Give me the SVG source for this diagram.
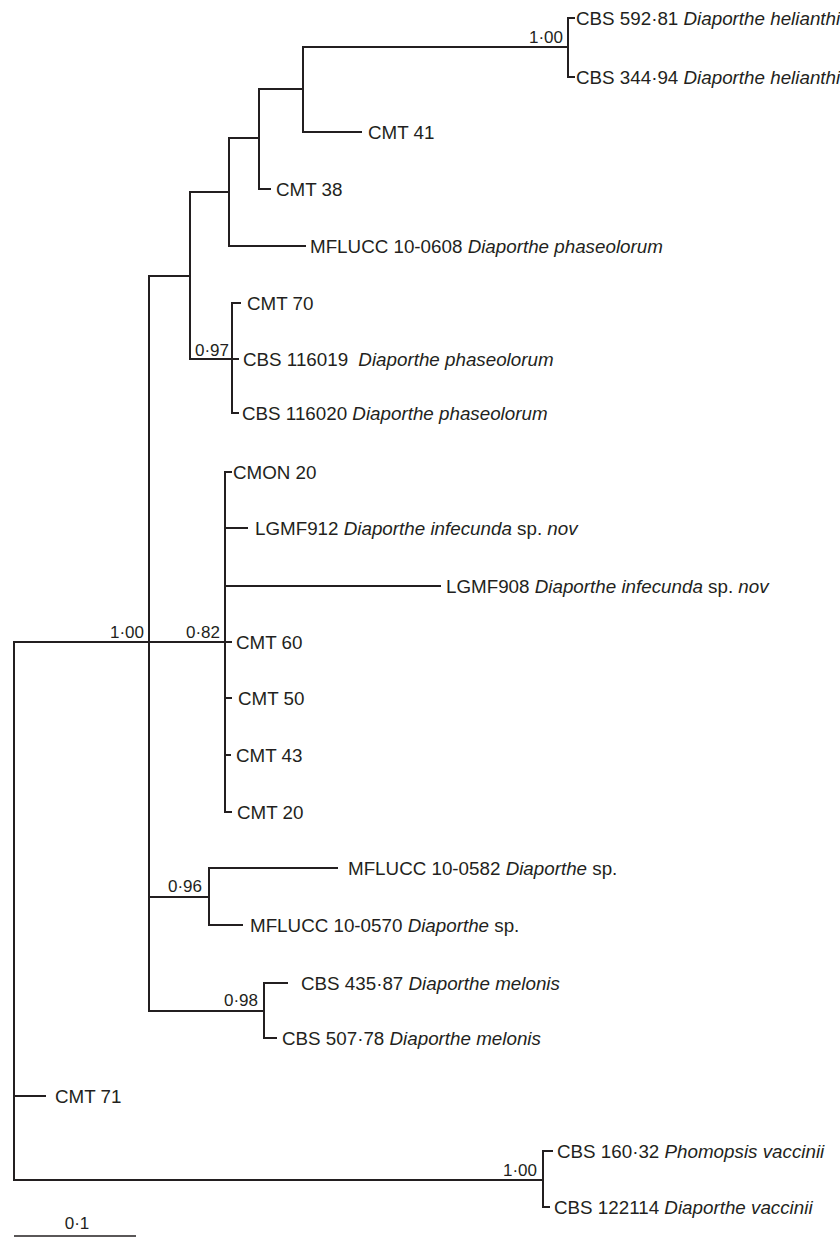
<svg xmlns="http://www.w3.org/2000/svg" width="840" height="1237" viewBox="0 0 840 1237">
<style>
.c line{stroke:#231f20;stroke-width:2;stroke-linecap:square;fill:none}
.t{font-family:"Liberation Sans",Arial,sans-serif;font-size:18.8px;fill:#231f20}
.s{font-family:"Liberation Sans",Arial,sans-serif;font-size:17px;fill:#231f20;text-anchor:end}
.i{font-style:italic}
</style>
<rect width="840" height="1237" fill="#fff"/>
<g class="c" id="connectors">
<line x1="14" y1="642" x2="14" y2="1180"/>
<line x1="14" y1="642" x2="149" y2="642"/>
<line x1="14" y1="1096" x2="45" y2="1096"/>
<line x1="14" y1="1180" x2="543" y2="1180"/>
<line x1="543" y1="1151" x2="543" y2="1207"/>
<line x1="543" y1="1151" x2="552" y2="1151"/>
<line x1="543" y1="1207" x2="549" y2="1207"/>
<line x1="149" y1="276" x2="149" y2="1011"/>
<line x1="149" y1="642" x2="225" y2="642"/>
<line x1="149" y1="276" x2="190" y2="276"/>
<line x1="149" y1="897" x2="209" y2="897"/>
<line x1="149" y1="1011" x2="264" y2="1011"/>
<line x1="190" y1="192" x2="190" y2="359"/>
<line x1="190" y1="192" x2="229" y2="192"/>
<line x1="190" y1="359" x2="232" y2="359"/>
<line x1="229" y1="138" x2="229" y2="246"/>
<line x1="229" y1="138" x2="259" y2="138"/>
<line x1="229" y1="246" x2="305" y2="246"/>
<line x1="259" y1="89" x2="259" y2="189"/>
<line x1="259" y1="89" x2="303" y2="89"/>
<line x1="259" y1="189" x2="270" y2="189"/>
<line x1="303" y1="47" x2="303" y2="132"/>
<line x1="303" y1="47" x2="568" y2="47"/>
<line x1="303" y1="132" x2="361" y2="132"/>
<line x1="568" y1="18" x2="568" y2="77"/>
<line x1="568" y1="18" x2="574" y2="18"/>
<line x1="568" y1="77" x2="574" y2="77"/>
<line x1="232" y1="303" x2="232" y2="413"/>
<line x1="232" y1="303" x2="240" y2="303"/>
<line x1="232" y1="359" x2="238" y2="359"/>
<line x1="232" y1="413" x2="238" y2="413"/>
<line x1="225" y1="472" x2="225" y2="812"/>
<line x1="225" y1="472" x2="231" y2="472"/>
<line x1="225" y1="528" x2="247" y2="528"/>
<line x1="225" y1="586" x2="440" y2="586"/>
<line x1="225" y1="642" x2="231" y2="642"/>
<line x1="225" y1="698" x2="231" y2="698"/>
<line x1="225" y1="755" x2="230" y2="755"/>
<line x1="225" y1="812" x2="231" y2="812"/>
<line x1="209" y1="868" x2="209" y2="925"/>
<line x1="209" y1="868" x2="337" y2="868"/>
<line x1="209" y1="925" x2="242" y2="925"/>
<line x1="264" y1="983" x2="264" y2="1038"/>
<line x1="264" y1="983" x2="287" y2="983"/>
<line x1="264" y1="1038" x2="276" y2="1038"/>
</g>
<g id="supports">
<text class="s" x="563" y="43">1·00</text>
<text class="s" x="229" y="356">0·97</text>
<text class="s" x="144" y="638">1·00</text>
<text class="s" x="220" y="638">0·82</text>
<text class="s" x="202" y="892">0·96</text>
<text class="s" x="258" y="1006">0·98</text>
<text class="s" x="537" y="1176">1·00</text>
</g>
<g id="leaf-cbs59281"><text class="t" x="576" y="24.5">CBS 592·81 <tspan class="i">Diaporthe helianthi</tspan></text></g>
<g id="leaf-cbs34494"><text class="t" x="576" y="83.5">CBS 344·94 <tspan class="i">Diaporthe helianthi</tspan></text></g>
<g id="leaf-cmt41"><text class="t" x="368" y="138.5">CMT 41</text></g>
<g id="leaf-cmt38"><text class="t" x="276" y="195.5">CMT 38</text></g>
<g id="leaf-mflucc100608"><text class="t" x="310" y="252.5">MFLUCC 10-0608 <tspan class="i">Diaporthe phaseolorum</tspan></text></g>
<g id="leaf-cmt70"><text class="t" x="247" y="309.5">CMT 70</text></g>
<g id="leaf-cbs116019"><text class="t" x="243" y="365.5">CBS 116019 <tspan class="i" dx="5">Diaporthe phaseolorum</tspan></text></g>
<g id="leaf-cbs116020"><text class="t" x="242" y="419.5">CBS 116020 <tspan class="i">Diaporthe phaseolorum</tspan></text></g>
<g id="leaf-cmon20"><text class="t" x="233" y="478.5">CMON 20</text></g>
<g id="leaf-lgmf912"><text class="t" x="255" y="534.5">LGMF912 <tspan class="i">Diaporthe infecunda</tspan> sp. <tspan class="i">nov</tspan></text></g>
<g id="leaf-lgmf908"><text class="t" x="446" y="592.5">LGMF908 <tspan class="i">Diaporthe infecunda</tspan> sp. <tspan class="i">nov</tspan></text></g>
<g id="leaf-cmt60"><text class="t" x="236" y="648.5">CMT 60</text></g>
<g id="leaf-cmt50"><text class="t" x="238" y="704.5">CMT 50</text></g>
<g id="leaf-cmt43"><text class="t" x="236" y="761.5">CMT 43</text></g>
<g id="leaf-cmt20"><text class="t" x="237" y="818.5">CMT 20</text></g>
<g id="leaf-mflucc100582"><text class="t" x="348" y="874.5">MFLUCC 10-0582 <tspan class="i">Diaporthe</tspan> sp.</text></g>
<g id="leaf-mflucc100570"><text class="t" x="250" y="931.5">MFLUCC 10-0570 <tspan class="i">Diaporthe</tspan> sp.</text></g>
<g id="leaf-cbs43587"><text class="t" x="301" y="989.5">CBS 435·87 <tspan class="i">Diaporthe melonis</tspan></text></g>
<g id="leaf-cbs50778"><text class="t" x="282" y="1044.5">CBS 507·78 <tspan class="i">Diaporthe melonis</tspan></text></g>
<g id="leaf-cmt71"><text class="t" x="55" y="1102.5">CMT 71</text></g>
<g id="leaf-cbs16032"><text class="t" x="557" y="1157.5">CBS 160·32 <tspan class="i">Phomopsis vaccinii</tspan></text></g>
<g id="leaf-cbs122114"><text class="t" x="554" y="1213.5">CBS 122114 <tspan class="i">Diaporthe vaccinii</tspan></text></g>
<g id="scale">
<line x1="14" y1="1236" x2="136" y2="1236" stroke="#231f20" stroke-width="1.5"/>
<text class="s" x="77" y="1229" style="text-anchor:middle">0·1</text>
</g>
</svg>
